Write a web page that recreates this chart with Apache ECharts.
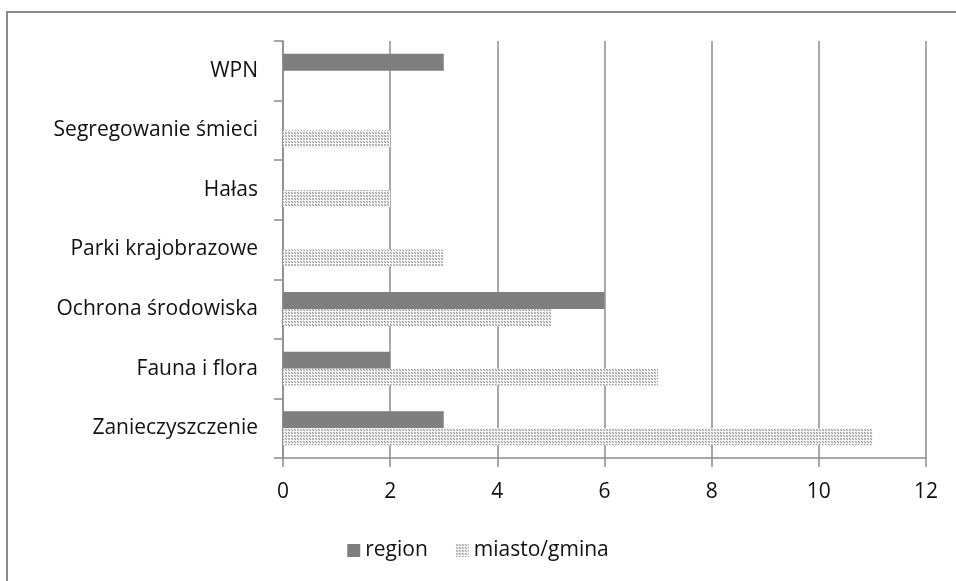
<!DOCTYPE html>
<html>
<head>
    <meta charset="utf-8">
    <title>region / miasto</title>
    <script src="https://cdn.jsdelivr.net/npm/echarts@6/dist/echarts.min.js"></script>
    <style>
      body { margin: 0; background: #fff; }
    </style>
</head>
<body>
    <div id="main" style="width:956px;height:581px;"></div>
    <script type="text/javascript">
      // dane z wykresu (od dołu do góry)
      var categories = ['Zanieczyszczenie', 'Fauna i flora', 'Ochrona środowiska', 'Parki krajobrazowe', 'Hałas', 'Segregowanie śmieci', 'WPN'];
      var regionValues = [3, 2, 6, 0, 0, 0, 3];
      var miastoValues = [11, 7, 5, 3, 2, 2, 0];
      var xTicks = [0, 2, 4, 6, 8, 10, 12];

      // kropkowany wzór dla miasto/gmina (kafelek 3x3)
      var pat = document.createElement('canvas');
      pat.width = 3; pat.height = 3;
      var ctx = pat.getContext('2d');
      ctx.fillStyle = '#f6f6f6'; ctx.fillRect(0, 0, 3, 3);
      ctx.fillStyle = '#d4d4d4'; ctx.fillRect(0, 0, 2, 2);
      ctx.fillStyle = '#9c9c9c'; ctx.fillRect(0, 0, 1, 1); ctx.fillRect(1, 1, 1, 1);

      var font = 'Open Sans';
      var echart = echarts.init(document.getElementById('main'));
      var option = {
        animation: false,
        graphic: [{
          type: 'rect', shape: {x: 7, y: 12, width: 1000, height: 1000},
          style: {fill: 'none', stroke: '#8c8c8c', lineWidth: 2}
        }],
        grid: {left: 283, right: 30, top: 41, bottom: 123, containLabel: false},
        xAxis: {
          type: 'value', min: xTicks[0], max: xTicks[xTicks.length - 1], interval: 2,
          axisLine: {show: true, lineStyle: {color: '#8c8c8c', width: 1.5}},
          axisTick: {show: true, length: 9, lineStyle: {color: '#8c8c8c', width: 1.5}},
          splitLine: {show: true, lineStyle: {color: '#8c8c8c', width: 1.5}},
          axisLabel: {color: '#111', fontFamily: font, fontSize: 21, margin: 24}
        },
        yAxis: {
          type: 'category', data: categories,
          axisLine: {show: true, lineStyle: {color: '#8c8c8c', width: 1.5}},
          axisTick: {show: true, length: 9, lineStyle: {color: '#8c8c8c', width: 1.5}},
          axisLabel: {color: '#111', fontFamily: font, fontSize: 21, margin: 25}
        },
        legend: {
          data: ['region', 'miasto/gmina'], bottom: 15, left: 'center',
          itemWidth: 13, itemHeight: 13, itemGap: 28, icon: 'rect',
          textStyle: {color: '#111', fontFamily: font, fontSize: 21}
        },
        series: [
          {name: 'region', type: 'bar', data: regionValues, barGap: '0%', barCategoryGap: '43%',
           itemStyle: {color: '#7f7f7f'}},
          {name: 'miasto/gmina', type: 'bar', data: miastoValues, barGap: '0%', barCategoryGap: '43%',
           itemStyle: {color: {image: pat, repeat: 'repeat'}}}
        ]
      };
      echart.setOption(option);
    </script>
</body>
</html>
